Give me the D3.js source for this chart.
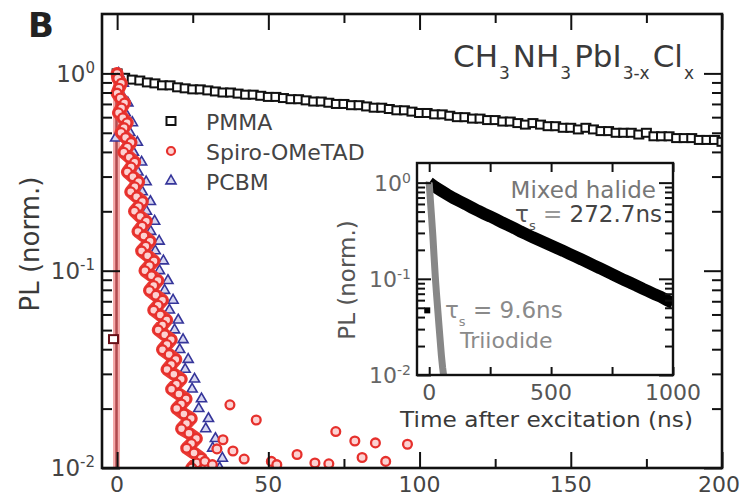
<!DOCTYPE html>
<html>
<head>
<meta charset="utf-8">
<script src="https://cdn.jsdelivr.net/npm/d3@7"></script>
<style>
  body { margin: 0; background: #fff; }
  svg { font-family: "DejaVu Sans", sans-serif; }
</style>
</head>
<body>
<svg id="chart" width="743" height="499"></svg>
<script>
// ---- data: [time (ns), PL (norm.)] ----
const pmma = [[-1.2,0.045],[0,1.0],[2.5,0.95],[5,0.93],[7.5,0.92],[10,0.9],[12.5,0.89],[15,0.87],[17.5,0.87],
  [20,0.85],[22.5,0.84],[25,0.83],[27.5,0.83],[30,0.82],[32.5,0.81],[35,0.8],[37.5,0.8],[40,0.79],[42.5,0.78],
  [45,0.78],[47.5,0.77],[50,0.76],[52.5,0.76],[55,0.75],[57.5,0.74],[60,0.74],[62.5,0.73],[65,0.72],[67.5,0.72],
  [70,0.71],[72.5,0.7],[75,0.7],[77.5,0.69],[80,0.69],[82.5,0.68],[85,0.67],[87.5,0.67],[90,0.66],[92.5,0.65],
  [95,0.65],[97.5,0.64],[100,0.63],[102.5,0.63],[105,0.62],[107.5,0.62],[110,0.61],[112.5,0.6],[115,0.6],
  [117.5,0.59],[120,0.59],[122.5,0.58],[125,0.58],[127.5,0.57],[130,0.57],[132.5,0.56],[135,0.55],[137.5,0.56],
  [140,0.55],[142.5,0.54],[145,0.54],[147.5,0.53],[150,0.53],[152.5,0.52],[155,0.53],[157.5,0.52],[160,0.51],
  [162.5,0.51],[165,0.5],[167.5,0.5],[170,0.5],[172.5,0.49],[175,0.5],[177.5,0.48],[180,0.48],[182.5,0.48],
  [185,0.47],[187.5,0.47],[190,0.47],[192.5,0.46],[195,0.46],[197.5,0.46],[200,0.45]];

const spiro = [[0,1.0],[0.21,0.944],[1.4,0.891],[0.62,0.841],[0,0.794],[1.04,0.75],[2.45,0.708],[1.46,0.668],
  [0.47,0.631],[1.88,0.596],[3.3,0.562],[2.29,0.531],[1.3,0.501],[2.8,0.473],[4.6,0.447],[3.41,0.422],[2.2,0.398],
  [4.02,0.376],[5.8,0.355],[4.62,0.335],[3.4,0.316],[5.23,0.299],[7.1,0.282],[5.84,0.266],[4.5,0.251],[6.44,0.237],
  [8.35,0.224],[7.05,0.211],[5.75,0.2],[7.66,0.188],[9.65,0.178],[8.26,0.168],[6.9,0.158],[8.87,0.15],[10.9,0.141],
  [9.48,0.133],[8.1,0.126],[10.09,0.119],[12.2,0.112],[10.7,0.106],[9.2,0.1],[11.36,0.0944],[13.5,0.0891],
  [12.09,0.0841],[10.7,0.0794],[12.82,0.075],[15.0,0.0708],[13.55,0.0668],[12.1,0.0631],[14.28,0.0596],
  [16.4,0.0562],[15.01,0.0531],[13.6,0.0501],[15.74,0.0473],[17.9,0.0447],[16.47,0.0422],[15.0,0.0398],
  [17.2,0.0376],[19.4,0.0355],[17.93,0.0335],[16.5,0.0316],[18.75,0.0299],[21.2,0.0282],[19.58,0.0266],
  [18.0,0.0251],[20.42,0.0237],[22.8,0.0224],[21.25,0.0211],[19.7,0.02],[22.08,0.0188],[24.5,0.0178],
  [22.92,0.0168],[21.3,0.0158],[23.75,0.015],[26.2,0.0141],[24.58,0.0133],[23.0,0.0126],[25.42,0.0119],
  [27.8,0.0112],[26.25,0.0106],[24.7,0.01],[29.0,0.0108],[31.5,0.0104],[33,0.0125],[35,0.0139],[37.3,0.0209],
  [38.3,0.0122],[42,0.0111],[46,0.0175],[51,0.0108],[52.8,0.0104],[59.5,0.0117],[65.4,0.0106],[70,0.0105],
  [72.3,0.0153],[78.6,0.0137],[81,0.0113],[85.4,0.0134],[88.8,0.0108],[96,0.0132]];
const spiroRise = [[-0.2,0.002],[-0.2,0.95]];

const pcbm = [[-0.5,0.47],[0.5,1.0],[2.05,0.891],[1.2,0.794],[3.55,0.708],[2.7,0.631],[5.05,0.562],[4.2,0.501],
  [6.7,0.447],[5.4,0.398],[8.1,0.355],[6.9,0.316],[9.6,0.282],[8.3,0.251],[11,0.224],[9.7,0.2],[12.4,0.178],
  [11.1,0.158],[13.9,0.141],[12.6,0.126],[15.3,0.112],[14,0.1],[16.8,0.0891],[15.7,0.0794],[18.5,0.0708],
  [17.3,0.0631],[20.2,0.0562],[19,0.0501],[21.8,0.0447],[20.7,0.0398],[23.5,0.0355],[22.5,0.0316],[25.6,0.0282],
  [24.8,0.0251],[27.9,0.0224],[27,0.02],[30.2,0.0178],[29.3,0.0158],[32.5,0.0141],[31.6,0.0126],[34.8,0.0112],
  [33.9,0.01]];

// inset
const mixed = [[0,1.0],[25,0.9],[50,0.82],[75,0.75],[100,0.69],[125,0.64],[150,0.595],[175,0.55],[200,0.51],
  [225,0.475],[250,0.445],[275,0.415],[300,0.385],[325,0.36],[350,0.335],[375,0.31],[400,0.29],[425,0.27],
  [450,0.253],[475,0.237],[500,0.222],[525,0.208],[550,0.195],[575,0.182],[600,0.17],[625,0.159],[650,0.148],
  [675,0.138],[700,0.129],[725,0.12],[750,0.112],[775,0.104],[800,0.097],[825,0.091],[850,0.085],[875,0.079],
  [900,0.074],[925,0.069],[950,0.065],[975,0.06],[1000,0.056]];
const mixedRise = [[-8,0.047]];
const triiodide = [[-4,0.95],[0,1.0],[5,0.65],[10,0.43],[15,0.28],[20,0.17],[25,0.105],[30,0.07],[35,0.048],
  [40,0.033],[45,0.023],[50,0.016],[55,0.012],[60,0.0095]];

const xMajor = [0, 50, 100, 150, 200], xMinor = [25, 75, 125, 175];
const yMajor = [0.01, 0.1, 1];
const yMinor = [0.02,0.03,0.04,0.05,0.06,0.07,0.08,0.09,0.2,0.3,0.4,0.5,0.6,0.7,0.8,0.9];
const xiMajor = [0, 500, 1000], xiMinor = [250, 750];
const legendItems = ["PMMA", "Spiro-OMeTAD", "PCBM"];

const svg = d3.select("#chart");
const ink = "#111";

// main scales
const x = d3.scaleLinear().domain([-5, 200]).range([102, 722]);
const y = d3.scaleLog().domain([0.01, 2]).range([468, 14]);
// inset scales
const xi = d3.scaleLinear().domain([-50, 1000]).range([417, 673]);
const yi = d3.scaleLog().domain([0.01, 1.6]).range([375, 163]);

const defs = svg.append("defs");
defs.append("clipPath").attr("id", "clipMain").append("rect")
  .attr("x", x.range()[0]).attr("y", y.range()[1])
  .attr("width", x.range()[1] - x.range()[0]).attr("height", y.range()[0] - y.range()[1]);
defs.append("clipPath").attr("id", "clipInset").append("rect")
  .attr("x", xi.range()[0]).attr("y", yi.range()[1])
  .attr("width", xi.range()[1] - xi.range()[0]).attr("height", yi.range()[0] - yi.range()[1]);

function tickAxis(gen, tx, ty, vals, size, g0) {
  const g = (g0 || svg).append("g").attr("transform", `translate(${tx},${ty})`)
    .call(gen.tickValues(vals).tickSize(size).tickFormat(""));
  g.select(".domain").remove();
  g.selectAll(".tick line").attr("stroke", ink).attr("stroke-width", 2);
  return g;
}

// ---- main data ----
const plot = svg.append("g").attr("clip-path", "url(#clipMain)");
const line = d3.line().x(d => x(d[0])).y(d => y(d[1]));

plot.append("path").datum(spiroRise).attr("d", line)
  .attr("stroke", "#f4a8a8").attr("stroke-width", 7).attr("fill", "none");
plot.append("path").datum(spiroRise).attr("d", line)
  .attr("stroke", "#b04a4e").attr("stroke-width", 2.5).attr("fill", "none");

plot.selectAll(".pmma").data(pmma).join("rect").attr("class", "pmma")
  .attr("x", d => x(d[0]) - 4.5).attr("y", d => y(d[1]) - 4)
  .attr("width", 9).attr("height", 8)
  .attr("fill", "#fff").attr("stroke", d => d[0] < 0 ? "#6a1018" : ink).attr("stroke-width", 2);

const tri = d3.symbol().type(d3.symbolTriangle).size(44);
plot.selectAll(".pcbm").data(pcbm).join("path").attr("class", "pcbm")
  .attr("d", tri).attr("transform", d => `translate(${x(d[0])},${y(d[1])})`)
  .attr("fill", "#d6d6f0").attr("stroke", "#35359a").attr("stroke-width", 1.6);

// dense part of the Spiro trace: overlapping markers merge into a solid band
const spiroBand = spiro.filter(d => d[0] < 28).sort((a, b) => b[1] - a[1]);
plot.append("path").datum(spiroBand).attr("d", line)
  .attr("fill", "none").attr("stroke", "#ea3b36").attr("stroke-width", 13)
  .attr("stroke-linejoin", "round").attr("stroke-linecap", "round");

plot.selectAll(".spiro").data(spiro).join("circle").attr("class", "spiro")
  .attr("cx", d => x(d[0])).attr("cy", d => y(d[1])).attr("r", 4.4)
  .attr("fill", "#fcd2d2").attr("stroke", "#e6302c").attr("stroke-width", 2.3);

// ---- main frame and ticks ----
svg.append("rect").attr("x", 102).attr("y", 14).attr("width", 620).attr("height", 454)
  .attr("fill", "none").attr("stroke", ink).attr("stroke-width", 2.6);

tickAxis(d3.axisBottom(x), 0, 468, xMajor, -16);
tickAxis(d3.axisBottom(x), 0, 468, xMinor, -9);
tickAxis(d3.axisTop(x), 0, 14, xMajor, -16);
tickAxis(d3.axisTop(x), 0, 14, xMinor, -9);
tickAxis(d3.axisLeft(y), 102, 0, yMajor, -18);
tickAxis(d3.axisLeft(y), 102, 0, yMinor, -10);
tickAxis(d3.axisRight(y), 722, 0, yMajor, -18);
tickAxis(d3.axisRight(y), 722, 0, yMinor, -10);

svg.append("g").selectAll("text").data(xMajor).join("text")
  .attr("x", d => Math.min(x(d), 719)).attr("y", 492).attr("text-anchor", "middle")
  .attr("font-size", 22).attr("fill", "#444").text(d => d);

function powLabels(g, vals, sx, sy, xPos, fs, sup, rise, col) {
  g.selectAll(null).data(vals).join("text")
    .attr("x", xPos).attr("y", d => sy(d) + fs * 0.36).attr("text-anchor", "end")
    .attr("font-size", fs).attr("fill", col)
    .each(function(d) {
      const t = d3.select(this);
      t.append("tspan").text("10");
      t.append("tspan").attr("dy", -rise).attr("font-size", sup).text(Math.round(Math.log10(d)));
    });
}
powLabels(svg.append("g"), yMajor, x, y, 95, 23, 15, 9, "#444");

svg.append("text").attr("transform", "translate(39,244) rotate(-90)")
  .attr("text-anchor", "middle").attr("font-size", 26).attr("fill", "#3a3a3a")
  .text("PL (norm.)");

svg.append("text").attr("x", 28).attr("y", 37).attr("font-size", 34)
  .attr("font-weight", "bold").attr("fill", "#222").text("B");

// title formula
const title = svg.append("text").attr("x", 453).attr("y", 67).attr("font-size", 31).attr("fill", "#3a3a3a");
[["CH", 0], ["3", 1], ["NH", 0], ["3", 1], ["PbI", 0], ["3-x", 1], ["Cl", 0], ["x", 1]].forEach((p, i, arr) => {
  const prevSub = i > 0 && arr[i - 1][1];
  title.append("tspan")
    .attr("dy", p[1] ? 12 : (prevSub ? -12 : 0))
    .attr("dx", p[1] ? 1 : (prevSub ? 3 : 0))
    .attr("font-size", p[1] ? 17 : 31).text(p[0]);
});

// legend
const leg = svg.append("g");
legendItems.forEach((name, i) => {
  const cy = 121 + i * 30, cx = 171;
  if (i === 0) leg.append("rect").attr("x", cx - 4.5).attr("y", cy - 4).attr("width", 9).attr("height", 8)
    .attr("fill", "#fff").attr("stroke", ink).attr("stroke-width", 2);
  if (i === 1) leg.append("circle").attr("cx", cx).attr("cy", cy).attr("r", 4)
    .attr("fill", "#fcd2d2").attr("stroke", "#e6302c").attr("stroke-width", 2.2);
  if (i === 2) leg.append("path").attr("d", tri).attr("transform", `translate(${cx},${cy})`)
    .attr("fill", "#d6d6f0").attr("stroke", "#35359a").attr("stroke-width", 1.6);
  leg.append("text").attr("x", 206).attr("y", cy + 9).attr("font-size", 22).attr("fill", "#444").text(name);
});

// ---- inset ----
const inset = svg.append("g");
inset.append("rect").attr("x", 417).attr("y", 163).attr("width", 256).attr("height", 212).attr("fill", "#fff");
const ip = inset.append("g").attr("clip-path", "url(#clipInset)");
const iline = d3.line().x(d => xi(d[0])).y(d => yi(d[1]));
ip.append("path").datum(mixed).attr("d", iline).attr("fill", "none")
  .attr("stroke", "#000").attr("stroke-width", 12);
ip.selectAll(".mr").data(mixedRise).join("rect").attr("x", d => xi(d[0]) - 3).attr("y", d => yi(d[1]) - 3)
  .attr("width", 6).attr("height", 6).attr("fill", "#000");
ip.append("path").datum(triiodide).attr("d", iline).attr("fill", "none")
  .attr("stroke", "#878787").attr("stroke-width", 7);

inset.append("rect").attr("x", 417).attr("y", 163).attr("width", 256).attr("height", 212)
  .attr("fill", "none").attr("stroke", ink).attr("stroke-width", 2.4);
tickAxis(d3.axisTop(xi), 0, 163, xiMajor.concat(xiMinor), -9, inset);
tickAxis(d3.axisBottom(xi), 0, 375, xiMajor.concat(xiMinor), -8, inset);
tickAxis(d3.axisLeft(yi), 417, 0, yMajor, -14, inset);
tickAxis(d3.axisLeft(yi), 417, 0, yMinor, -8, inset);
tickAxis(d3.axisRight(yi), 673, 0, yMajor, -14, inset);
tickAxis(d3.axisRight(yi), 673, 0, yMinor, -8, inset);

inset.append("g").selectAll("text").data(xiMajor).join("text")
  .attr("x", d => xi(d)).attr("y", 400).attr("text-anchor", "middle")
  .attr("font-size", 22).attr("fill", "#555").text(d => d);
powLabels(inset.append("g"), yMajor, xi, yi, 411, 22, 14, 8, "#666");

inset.append("text").attr("x", 400).attr("y", 427).attr("font-size", 22).attr("fill", "#3a3a3a")
  .attr("textLength", 293).attr("lengthAdjust", "spacingAndGlyphs").text("Time after excitation (ns)");
inset.append("text").attr("transform", "translate(355,280) rotate(-90)").attr("text-anchor", "middle")
  .attr("font-size", 23).attr("fill", "#555").text("PL (norm.)");

inset.append("text").attr("x", 656).attr("y", 198).attr("text-anchor", "end")
  .attr("font-size", 23).attr("fill", "#777").text("Mixed halide");
const tauA = inset.append("text").attr("x", 662).attr("y", 222).attr("text-anchor", "end")
  .attr("font-size", 23).attr("fill", "#555");
tauA.append("tspan").text("\u03c4");
tauA.append("tspan").attr("dy", 8).attr("font-size", 13).text("s");
tauA.append("tspan").attr("dy", -8).attr("fill", "#999").text(" = ");
tauA.append("tspan").attr("fill", "#444").text("272.7ns");

const tauB = inset.append("text").attr("x", 445).attr("y", 318).attr("font-size", 23).attr("fill", "#8a8a8a");
tauB.append("tspan").text("\u03c4");
tauB.append("tspan").attr("dy", 8).attr("font-size", 13).text("s");
tauB.append("tspan").attr("dy", -8).text(" = 9.6ns");
inset.append("text").attr("x", 460).attr("y", 348).attr("font-size", 22).attr("fill", "#8a8a8a").text("Triiodide");
</script>
</body>
</html>
